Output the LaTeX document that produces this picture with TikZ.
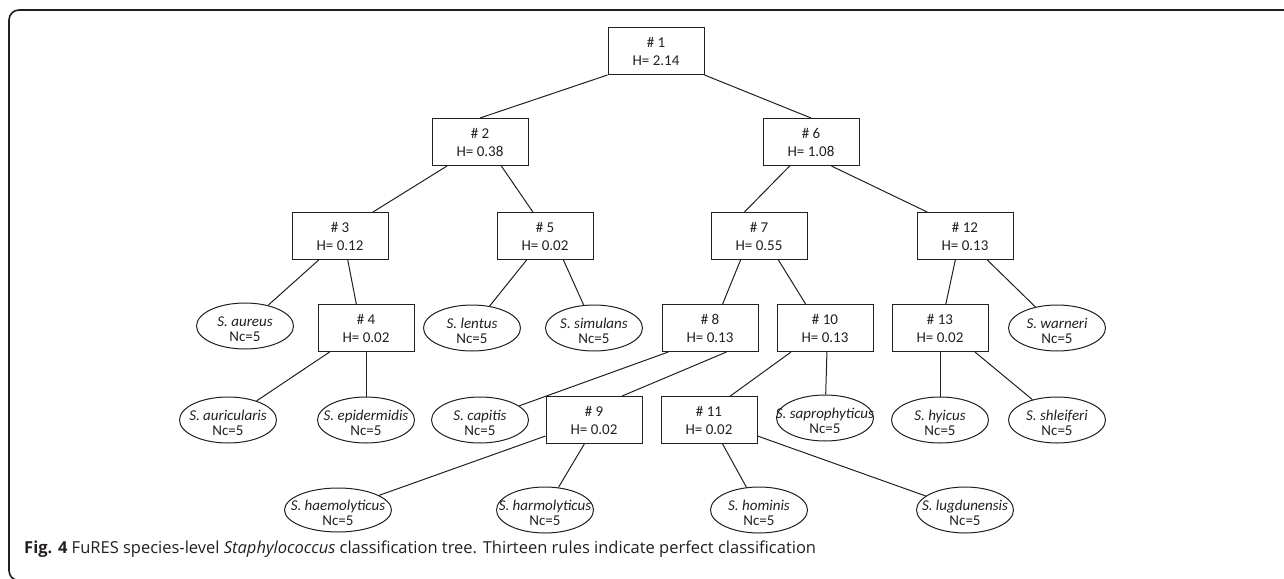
\documentclass[tikz,border=0pt]{standalone}
\usepackage{fontspec}
\setmainfont{Carlito}
\newfontfamily\capfont{Open Sans}
\usetikzlibrary{shapes.geometric,calc}
\definecolor{ink}{HTML}{231F20}
\newcommand{\lf}[1]{\raisebox{-5pt}[\height][\depth]{\makebox[0pt]{\begin{tabular}{@{}c@{}}\textit{#1}\\[-1pt]Nc=5\end{tabular}}}}
\newcommand{\rl}[2]{\raisebox{-2pt}[\height][\depth]{\begin{tabular}{@{}c@{}}\# #1\\[1pt]H= #2\end{tabular}}}
\tikzset{
  rule/.style={draw=ink, line width=1pt, minimum width=96pt, minimum height=47pt, inner sep=0pt, text=ink, font=\fontsize{15}{17}\selectfont},
  leaf/.style={ellipse, draw=ink, line width=1pt, minimum width=97pt, minimum height=46pt, inner sep=0pt, text=ink, font=\fontsize{15}{15.5}\selectfont},
  edge/.style={draw=ink, line width=1pt},
  frame/.style={draw=ink, line width=1.6pt, rounded corners=10pt}
}
\begin{document}
\begin{tikzpicture}[x=1pt,y=-1pt]
\useasboundingbox (0,0) rectangle (1284,578);
\clip (0,0) rectangle (1284,578);
\draw[frame] (1300,10) -- (9,10) -- (9,580.5) -- (1300,580.5);
% rules
\node[rule] (n1) at (656,51) {\rl{1}{2.14}};
\node[rule] (n2) at (480,142) {\rl{2}{0.38}};
\node[rule] (n6) at (811,142) {\rl{6}{1.08}};
\node[rule] (n3) at (340,236) {\rl{3}{0.12}};
\node[rule] (n5) at (545,236) {\rl{5}{0.02}};
\node[rule] (n7) at (759,236) {\rl{7}{0.55}};
\node[rule] (n12) at (965,236) {\rl{12}{0.13}};
\node[rule] (n4) at (366,328) {\rl{4}{0.02}};
\node[rule] (n8) at (710,328) {\rl{8}{0.13}};
\node[rule] (n10) at (825,328) {\rl{10}{0.13}};
\node[rule] (n13) at (940,328) {\rl{13}{0.02}};
\node[rule] (n9) at (594,420) {\rl{9}{0.02}};
\node[rule] (n11) at (709,420) {\rl{11}{0.02}};
% leaves
\node[leaf] (aur) at (245,326) {\lf{S. aureus}};
\node[leaf] (len) at (472,328) {\lf{S. lentus}};
\node[leaf] (sim) at (594,328) {\lf{S. simulans}};
\node[leaf] (war) at (1057,328) {\lf{S. warneri}};
\node[leaf] (auc) at (228,420) {\lf{S. auricularis}};
\node[leaf] (epi) at (366,420) {\lf{S. epidermidis}};
\node[leaf] (cap) at (480,420) {\lf{S. capitis}};
\node[leaf] (sap) at (825,418) {\lf{S. saprophyticus}};
\node[leaf] (hyi) at (940,420) {\lf{S. hyicus}};
\node[leaf] (shl) at (1057,420) {\lf{S. shleiferi}};
\node[leaf, minimum width=107pt, minimum height=44pt] (hae) at (338,510) {\lf{S. haemolyticus}};
\node[leaf] (har) at (545,510) {\lf{S. harmolyticus}};
\node[leaf] (hom) at (759,510) {\lf{S. hominis}};
\node[leaf] (lug) at (965,510) {\lf{S. lugdunensis}};
% edges
\draw[edge] (n1.south west) -- (n2.north);
\draw[edge] (n1.south east) -- (n6.north);
\draw[edge] ($(n2.south west)!0.16!(n2.south east)$) -- ($(n3.north west)!0.84!(n3.north east)$);
\draw[edge] ($(n2.south west)!0.72!(n2.south east)$) -- ($(n5.north west)!0.375!(n5.north east)$);
\draw[edge] ($(n6.south west)!0.28!(n6.south east)$) -- ($(n7.north west)!0.35!(n7.north east)$);
\draw[edge] ($(n6.south west)!0.71!(n6.south east)$) -- ($(n12.north west)!0.11!(n12.north east)$);
\draw[edge] ($(n3.south west)!0.28!(n3.south east)$) -- (aur);
\draw[edge] ($(n3.south west)!0.58!(n3.south east)$) -- ($(n4.north west)!0.4!(n4.north east)$);
\draw[edge] ($(n4.south west)!0.125!(n4.south east)$) -- (auc);
\draw[edge] (n4.south) -- (epi);
\draw[edge] ($(n5.south west)!0.31!(n5.south east)$) -- (len);
\draw[edge] ($(n5.south west)!0.69!(n5.south east)$) -- (sim);
\draw[edge] ($(n7.south west)!0.31!(n7.south east)$) -- ($(n8.north west)!0.63!(n8.north east)$);
\draw[edge] ($(n7.south west)!0.7!(n7.south east)$) -- ($(n10.north west)!0.3!(n10.north east)$);
\draw[edge] ($(n12.south west)!0.4!(n12.south east)$) -- ($(n13.north west)!0.56!(n13.north east)$);
\draw[edge] ($(n12.south west)!0.73!(n12.south east)$) -- (war);
\draw[edge] ($(n8.south west)!0.07!(n8.south east)$) -- (cap);
\draw[edge] ($(n8.south west)!0.67!(n8.south east)$) -- ($(n9.north west)!0.79!(n9.north east)$);
\draw[edge] ($(n10.south west)!0.15!(n10.south east)$) -- ($(n11.north west)!0.72!(n11.north east)$);
\draw[edge] ($(n10.south west)!0.52!(n10.south east)$) -- (sap);
\draw[edge] (n13.south) -- (hyi);
\draw[edge] ($(n13.south west)!0.86!(n13.south east)$) -- (shl);
\draw[edge] ($(n9.south west)+(0,-8)$) -- (hae);
\draw[edge] ($(n9.south west)!0.4!(n9.south east)$) -- (har);
\draw[edge] ($(n11.south west)!0.64!(n11.south east)$) -- (hom);
\draw[edge] ($(n11.south east)+(0,-8)$) -- (lug);
% caption
\node[anchor=base west, inner sep=0pt, text=ink, font=\capfont\fontsize{16.5}{19}\selectfont] (capt) at (24,553) {\textbf{Fig. 4} FuRES species-level \textit{Staphylococcus} classification tree. Thirteen rules indicate perfect classification};
\end{tikzpicture}
\end{document}
